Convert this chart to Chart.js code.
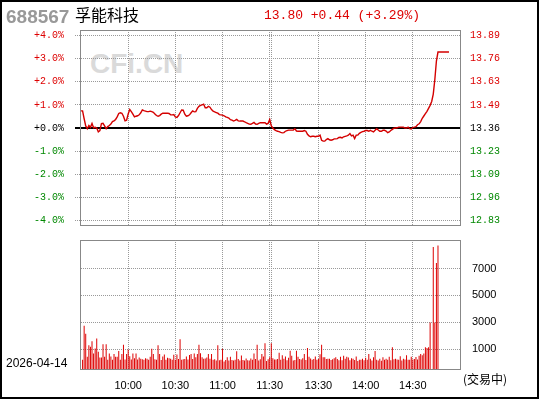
<!DOCTYPE html>
<html>
<head>
<meta charset="utf-8">
<script src="https://cdn.jsdelivr.net/npm/chart.js@4.4.1/dist/chart.umd.min.js"></script>
<style>
  body { margin: 0; background: #fff; }
  #wrap { position: relative; width: 540px; height: 400px; overflow: hidden; font-family: 'Liberation Sans', Arial, sans-serif; }
  #frame { position: absolute; left: 0; top: 0; width: 539px; height: 399px; border: 2px solid #000; box-sizing: border-box; }
  canvas { position: absolute; left: 0; }
  #priceCanvas { top: 0; }
  #volCanvas { top: 230px; }
  .t { position: absolute; white-space: nowrap; }
  #code { left: 6px; top: 7px; font: bold 19px/19px 'Liberation Sans', Arial, sans-serif; color: #999; }
  #name { left: 75px; top: 6px; font: 16px/16px 'Noto Sans CJK SC', sans-serif; color: #000; }
  #quote { left: 264px; top: 9px; font: 13px/13px 'Liberation Mono', monospace; color: #dd0000; }
  #mark { left: 90px; top: 49px; font: bold 28px/30px 'Liberation Sans', Arial, sans-serif; color: #dadada; }
  #date { left: 6px; top: 356px; font: 12px/14px 'Liberation Sans', Arial, sans-serif; color: #000; }
  #state { left: 463px; top: 372px; font: 12px/14px 'Noto Sans CJK SC', sans-serif; color: #000; }
</style>
</head>
<body>
<div id="wrap">
  <div class="t" id="mark">CFi.CN</div>
  <canvas id="priceCanvas" width="540" height="240"></canvas>
  <canvas id="volCanvas" width="540" height="170"></canvas>
  <div class="t" id="code">688567</div>
  <div class="t" id="name">孚能科技</div>
  <div class="t" id="quote">13.80 +0.44 (+3.29%)</div>
  <div class="t" id="date">2026-04-14</div>
  <div class="t" id="state">(交易中)</div>
  <div id="frame"></div>
</div>
<script>
// 分时涨跌幅 (%)，每分钟一个点，0 = 9:30，120 = 11:30，121 = 13:00
var pctValues = [
  0.74, 0.74, 0.40, 0.09, -0.03, 0.11, 0.03, 0.20, 0.01, 0.03,
  0.00, -0.17, -0.11, 0.19, 0.20, 0.09, -0.03, 0.06, 0.11, 0.17,
  0.28, 0.31, 0.37, 0.48, 0.63, 0.66, 0.64, 0.51, 0.31, 0.34,
  0.61, 0.80, 0.71, 0.60, 0.48, 0.51, 0.53, 0.57, 0.66, 0.78,
  0.75, 0.73, 0.71, 0.71, 0.73, 0.71, 0.68, 0.61, 0.54, 0.51,
  0.54, 0.60, 0.64, 0.64, 0.64, 0.64, 0.63, 0.57, 0.57, 0.58,
  0.48, 0.46, 0.54, 0.66, 0.78, 0.77, 0.60, 0.51, 0.53, 0.57,
  0.66, 0.74, 0.70, 0.71, 0.85, 0.94, 0.98, 1.00, 1.03, 0.88,
  0.88, 0.94, 0.90, 0.80, 0.73, 0.70, 0.67, 0.64, 0.58, 0.57,
  0.56, 0.53, 0.48, 0.46, 0.43, 0.36, 0.34, 0.30, 0.33, 0.37,
  0.31, 0.30, 0.30, 0.30, 0.27, 0.23, 0.20, 0.17, 0.16, 0.20,
  0.24, 0.17, 0.16, 0.20, 0.23, 0.23, 0.23, 0.23, 0.17, 0.20,
  0.37,
  0.09, 0.00, -0.07, -0.11, -0.14, -0.16, -0.19, -0.21, -0.20,
  -0.14, -0.11, -0.09, -0.09, -0.09, -0.09, -0.03, -0.13, -0.14, -0.14,
  -0.14, -0.14, -0.11, -0.14, -0.27, -0.34, -0.38, -0.36, -0.36, -0.38,
  -0.36, -0.36, -0.31, -0.53, -0.57, -0.57, -0.50, -0.46, -0.51, -0.53,
  -0.51, -0.47, -0.47, -0.46, -0.41, -0.40, -0.43, -0.38, -0.36, -0.34,
  -0.31, -0.24, -0.34, -0.31, -0.46, -0.31, -0.31, -0.23, -0.19, -0.16,
  -0.14, -0.11, -0.11, -0.14, -0.10, -0.14, -0.17, -0.10, -0.03, -0.09,
  -0.14, -0.14, -0.10, -0.10, -0.13, -0.20, -0.17, -0.11, -0.06, -0.01,
  0.00, 0.01, 0.04, 0.04, 0.04, 0.04, 0.00, 0.00, 0.04, -0.03,
  -0.04, 0.03, 0.04, 0.06, 0.14, 0.18, 0.28, 0.42, 0.52, 0.62,
  0.72, 0.85, 0.98, 1.15, 1.47, 2.10, 2.90, 3.29, 3.29, 3.29,
  3.29, 3.29, 3.29, 3.29, 3.29
];

// 每分钟成交量 (手)
var volumes = [
  null, 230, 2760, 2160, 460, 1310, 1190, 1600, 700, 1070,
  1800, 830, 390, 390, 1380, 460, 1380, 230, 700, 480,
  230, 650, 460, 460, 880, 230, 650, 1350, 250, 650,
  1000, 500, 250, 700, 350, 700, 250, 400, 300, 260,
  240, 350, 300, 230, 460, 1050, 650, 260, 240, 1300,
  650, 220, 480, 620, 240, 380, 340, 300, 230, 600,
  240, 620, 280, 1750, 240, 260, 280, 470, 250, 580,
  650, 280, 700, 420, 650, 1350, 720, 420, 300, 330,
  400, 650, 300, 650, 230, 260, 180, 1300, 200, 230,
  1050, 100, 210, 410, 180, 450, 220, 180, 230, 870,
  280, 180, 550, 220, 170, 330, 200, 170, 330, 230,
  700, 280, 1350, 180, 260, 660, 480, 1450, 140, 260,
  420,
  1450, 350, 250, 250, 280, 750, 240, 560, 300,
  480, 200, 380, 900, 530, 180, 220, 900, 460, 280,
  250, 350, 650, 220, 1100, 450, 330, 230, 280, 480,
  230, 280, 640, 1350, 420, 420, 280, 300, 300, 210,
  260, 350, 420, 290, 200, 460, 200, 520, 300, 460,
  400, 200, 350, 300, 220, 480, 130, 240, 230, 300,
  200, 380, 230, 650, 300, 180, 420, 880, 240, 180,
  300, 160, 420, 240, 300, 240, 460, 200, 1150, 260,
  300, 250, 240, 500, 180, 300, 250, 560, 240, 230,
  460, 250, 280, 430, 250, 520, 660, 560, 700, 1150,
  1100, 1150, 3000, null, 8600, 3000, 7400, 8700
];

// 坐标轴刻度
var pctTicks = [4, 3, 2, 1, 0, -1, -2, -3, -4];
var pctLabels = ['+4.0%', '+3.0%', '+2.0%', '+1.0%', '+0.0%', '-1.0%', '-2.0%', '-3.0%', '-4.0%'];
var priceLabels = ['13.89', '13.76', '13.63', '13.49', '13.36', '13.23', '13.09', '12.96', '12.83'];
var timeTicks = [30, 60, 90, 120, 151, 181, 211];
var timeLabels = ['10:00', '10:30', '11:00', '11:30', '13:30', '14:00', '14:30'];
var gridMinutes = [30, 60, 90, 120, 121, 151, 181, 211];
var volTicks = [1000, 3000, 5000, 7000];

var RED = '#dd0000', GREEN = '#008800', GRID = '#999999';

Chart.defaults.font.family = "'Liberation Sans', Arial, sans-serif";

function signColor(v) {
  return v > 0 ? RED : (v < 0 ? GREEN : '#000');
}

function fixedTicks(list) {
  return function (ax) { ax.ticks = list.map(function (v) { return { value: v }; }); };
}

// 点状网格线 + 零轴 + 外框
var panelPlugin = {
  id: 'panel',
  beforeDatasetsDraw: function (chart) {
    var a = chart.chartArea, ctx = chart.ctx;
    var xs = chart.scales.x, ys = chart.scales.y;
    var l = Math.round(a.left), r = Math.round(a.right), t = Math.round(a.top), b = Math.round(a.bottom);
    var isPrice = chart.canvas.id === 'priceCanvas';
    var ext = isPrice ? 6 : 0;
    var i, k, px, py, v;
    ctx.save();
    ctx.fillStyle = GRID;
    ctx.beginPath();
    for (i = 0; i < xs.ticks.length; i++) {
      px = Math.floor(xs.getPixelForValue(xs.ticks[i].value));
      for (k = t + 1; k < b; k += 2) ctx.rect(px, k, 1, 1);
    }
    for (i = 0; i < ys.ticks.length; i++) {
      v = ys.ticks[i].value;
      if (isPrice && v === 0) continue;
      py = Math.floor(ys.getPixelForValue(v));
      for (k = l - ext; k < r; k += 2) ctx.rect(k, py, 1, 1);
    }
    ctx.fill();
    if (isPrice) {
      py = Math.round(ys.getPixelForValue(0));
      ctx.fillStyle = '#000';
      ctx.fillRect(l - ext, py - 1, r - l + ext, 2);
    }
    ctx.restore();
  },
  afterDraw: function (chart) {
    var a = chart.chartArea, ctx = chart.ctx;
    ctx.save();
    ctx.strokeStyle = '#888';
    ctx.lineWidth = 1;
    ctx.strokeRect(Math.round(a.left) - 0.5, Math.round(a.top) - 0.5,
      Math.round(a.right - a.left) + 1, Math.round(a.bottom - a.top) + 1);
    ctx.restore();
  }
};

function minuteAxis() {
  return {
    type: 'linear', min: 0, max: 241, offset: false,
    afterBuildTicks: fixedTicks(gridMinutes),
    grid: { display: false, offset: false },
    border: { display: false }
  };
}

// 上图：分时走势
var xTop = minuteAxis();
xTop.ticks = { display: false };
xTop.afterFit = function (s) { s.height = 12; };

new Chart(document.getElementById('priceCanvas'), {
  type: 'line',
  data: {
    datasets: [{
      data: pctValues.map(function (v, i) { return { x: i, y: v }; }),
      borderColor: '#d40000',
      borderWidth: 1.4,
      pointRadius: 0,
      tension: 0
    }]
  },
  options: {
    responsive: false,
    animation: false,
    layout: { padding: { top: 31, left: 0, right: 0, bottom: 0 } },
    plugins: { legend: { display: false }, tooltip: { enabled: false } },
    scales: {
      x: xTop,
      y: {
        position: 'left', min: -4.2, max: 4.2,
        afterBuildTicks: fixedTicks(pctTicks),
        ticks: {
          callback: function (v) { return pctLabels[pctTicks.indexOf(v)]; },
          color: function (c) { return signColor(c.tick.value); },
          font: { family: "'Liberation Mono', monospace", size: 10 },
          padding: 9
        },
        grid: { display: false },
        border: { display: false },
        afterFit: function (s) { s.width = 81; }
      },
      y2: {
        position: 'right', min: -4.2, max: 4.2,
        afterBuildTicks: fixedTicks(pctTicks),
        ticks: {
          callback: function (v) { return priceLabels[pctTicks.indexOf(v)]; },
          color: function (c) { return signColor(c.tick.value); },
          font: { family: "'Liberation Mono', monospace", size: 10 },
          padding: 2
        },
        grid: { display: false },
        border: { display: false },
        afterFit: function (s) { s.width = 80; }
      }
    }
  },
  plugins: [panelPlugin]
});

// 下图：成交量
var xVol = minuteAxis();
xVol.ticks = {
  autoSkip: false, maxRotation: 0, padding: 2,
  color: '#000', font: { size: 11 },
  callback: function (v) { var k = timeTicks.indexOf(v); return k < 0 ? '' : timeLabels[k]; }
};
xVol.afterFit = function (s) { s.height = 31; };

new Chart(document.getElementById('volCanvas'), {
  type: 'bar',
  data: {
    datasets: [{
      data: volumes.map(function (v, i) { return { x: i, y: v }; }),
      backgroundColor: '#dd0000',
      barThickness: 1,
      inflateAmount: 0,
      base: -455
    }]
  },
  options: {
    responsive: false,
    animation: false,
    layout: { padding: { top: 8, left: 81, right: 0, bottom: 0 } },
    plugins: { legend: { display: false }, tooltip: { enabled: false } },
    scales: {
      x: xVol,
      y: {
        position: 'right', min: -455, max: 9070,
        afterBuildTicks: fixedTicks(volTicks),
        ticks: {
          color: '#000', font: { size: 11 }, padding: 4,
          callback: function (v) { return String(v); }
        },
        grid: { display: false },
        border: { display: false },
        afterFit: function (s) { s.width = 80; }
      }
    }
  },
  plugins: [panelPlugin]
});
</script>
</body>
</html>
